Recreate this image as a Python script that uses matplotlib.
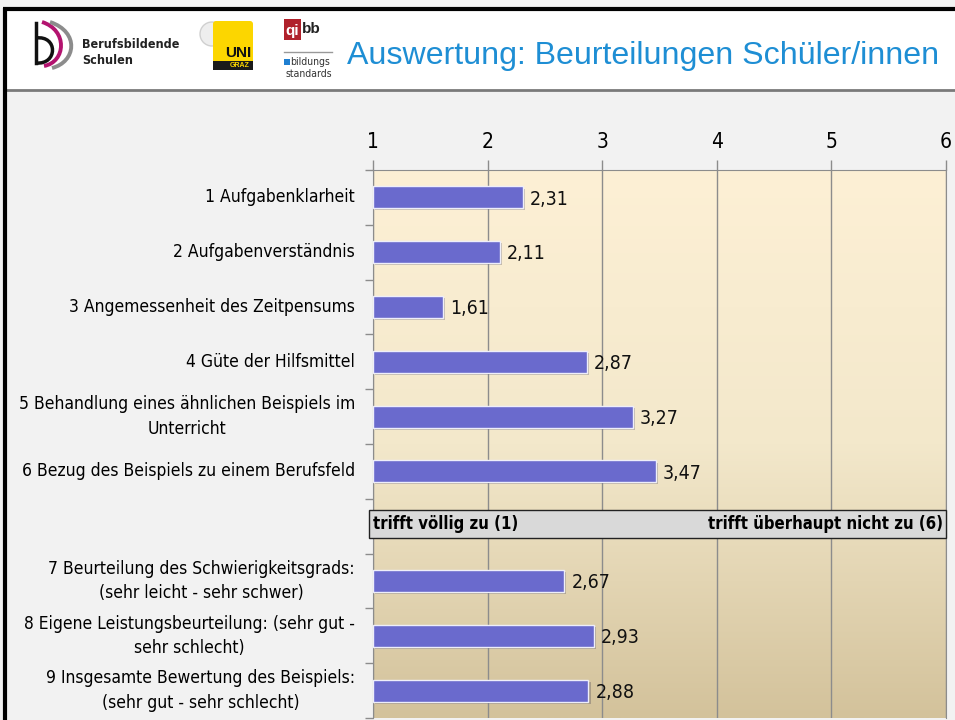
import numpy as np
import matplotlib
matplotlib.use("Agg")
import matplotlib.pyplot as plt
from matplotlib.patches import Rectangle, FancyBboxPatch, Circle, PathPatch
from matplotlib.path import Path
import matplotlib.patheffects as pe
from matplotlib.colors import LinearSegmentedColormap

#----------------------------------------------------------------
#   DATA
#----------------------------------------------------------------
labels = [
    "1 Aufgabenklarheit",
    "2 Aufgabenverständnis",
    "3 Angemessenheit des Zeitpensums",
    "4 Güte der Hilfsmittel",
    "5 Behandlung eines ähnlichen Beispiels im\nUnterricht",
    "6 Bezug des Beispiels zu einem Berufsfeld",
    "",
    "7 Beurteilung des Schwierigkeitsgrads:\n(sehr leicht - sehr schwer)",
    "8 Eigene Leistungsbeurteilung: (sehr gut -\nsehr schlecht)",
    "9 Insgesamte Bewertung des Beispiels:\n(sehr gut - sehr schlecht)",
]
values = [2.31, 2.11, 1.61, 2.87, 3.27, 3.47, np.nan, 2.67, 2.93, 2.88]
x_ticks = [1, 2, 3, 4, 5, 6]
scale_left = "trifft völlig zu (1)"
scale_right = "trifft überhaupt nicht zu (6)"
title = "Auswertung: Beurteilungen Schüler/innen"

# narrow look: DejaVu Sans Condensed (Arial Narrow is not available)
NARROW = dict(family="DejaVu Sans", fontstretch="condensed")
SANS = ["Liberation Sans", "DejaVu Sans"]

#----------------------------------------------------------------
#   FIGURE + SLIDE BACKGROUND (pixel coordinates)
#----------------------------------------------------------------
W, H = 955, 720
fig = plt.figure(figsize=(W / 100, H / 100), dpi=100)
fig.patch.set_facecolor("#f2f2f2")

bg = fig.add_axes([0, 0, 1, 1], zorder=0)
bg.set_xlim(0, W)
bg.set_ylim(H, 0)
bg.axis("off")

# header area
bg.add_patch(Rectangle((5, 9), W, 81, facecolor="white", edgecolor="none"))
bg.plot([6, W], [90, 90], color="#7a7a7a", lw=2)
# black frame
bg.plot([3, W], [9, 9], color="black", lw=3, solid_capstyle="butt")
bg.plot([4.5, 4.5], [8, H], color="black", lw=3, solid_capstyle="butt")

# logo 1: Berufsbildende Schulen
bg.plot([36, 36], [23, 63], color="#111111", lw=2.5)
bg.add_patch(PathPatch(Path([(36, 38), (58, 35), (58, 65), (36, 63)],
                            [Path.MOVETO, Path.CURVE4, Path.CURVE4, Path.CURVE4]),
                       facecolor="none", edgecolor="#111111", lw=2.5))
bg.add_patch(PathPatch(Path([(42, 22), (68, 30), (66, 62), (44, 66)],
                            [Path.MOVETO, Path.CURVE4, Path.CURVE4, Path.CURVE4]),
                       facecolor="none", edgecolor="#b3136f", lw=2.8))
bg.add_patch(PathPatch(Path([(50, 22), (80, 32), (76, 62), (52, 68)],
                            [Path.MOVETO, Path.CURVE4, Path.CURVE4, Path.CURVE4]),
                       facecolor="none", edgecolor="#8c8c8c", lw=2.8))
bg.text(82, 44, "Berufsbildende", fontsize=9, fontweight="bold", **NARROW,
        color="#222222", va="center")
bg.text(82, 61, "Schulen", fontsize=9, fontweight="bold", **NARROW,
        color="#222222", va="center")

# logo 2: Uni Graz
bg.add_patch(Circle((212, 34), 12, facecolor="#eeeeee", edgecolor="#d0d0d0", lw=1))
bg.add_patch(FancyBboxPatch((213, 21), 40, 49, boxstyle="round,pad=0,rounding_size=3",
                            facecolor="#fcd600", edgecolor="none"))
bg.add_patch(Rectangle((213, 61), 40, 9, facecolor="#1a1a1a", edgecolor="none"))
bg.text(238, 53, "UNI", fontsize=11, fontweight="bold", family=SANS, color="#111111",
        ha="center", va="center")
bg.text(240, 65.5, "GRAZ", fontsize=5, fontweight="bold", family=SANS, color="#fcd600",
        ha="center", va="center")

# logo 3: qibb bildungsstandards
bg.add_patch(Rectangle((284, 19), 17, 21, facecolor="#b0212b", edgecolor="none"))
bg.text(292.5, 31, "qi", fontsize=11, fontweight="bold", family=SANS, color="white",
        ha="center", va="center")
bg.text(302, 29, "bb", fontsize=11, fontweight="bold", family=SANS, color="#222222",
        ha="left", va="center")
bg.plot([284, 332], [52, 52], color="#999999", lw=1)
bg.add_patch(Rectangle((284, 59), 6, 6, facecolor="#1f7fd1", edgecolor="none"))
bg.text(290, 62, "bildungs", fontsize=7.5, **NARROW, color="#333333", va="center")
bg.text(286, 74, "standards", fontsize=7.5, **NARROW, color="#333333", va="center")

# title
bg.text(347, 56, title, fontsize=23.1, family=SANS, color="#1e8ed4", va="center", ha="left")

#----------------------------------------------------------------
#   CHART
#----------------------------------------------------------------
ax = fig.add_axes([373 / W, 1 - 718 / H, 573 / W, 548 / H], zorder=1)
n = len(labels)
y = np.arange(n)
ax.set_xlim(1, 6)
ax.set_ylim(n - 0.5, -0.5)

# gradient plot area
grad = LinearSegmentedColormap.from_list("bg", ["#fdf0d5", "#f3e8cb", "#d3c29b"])
ax.imshow(np.linspace(0, 1, 256).reshape(-1, 1), cmap=grad, aspect="auto",
          extent=[1, 6, n - 0.5, -0.5], zorder=0)

ax.grid(axis="x", color="#8c8c8c", lw=1, zorder=1)
ax.set_axisbelow(False)
for side in ["top", "left", "right"]:
    ax.spines[side].set_color("#8c8c8c")
ax.spines["bottom"].set_visible(False)

vals = np.array(values, dtype=float)
mask = ~np.isnan(vals)
bars = ax.barh(y[mask], vals[mask] - 1, left=1, height=0.4, color="#6a6acd",
               edgecolor="#eeeefa", lw=1, zorder=3)
for b in bars:
    b.set_path_effects([pe.SimplePatchShadow(offset=(1.5, -1.5), alpha=0.25), pe.Normal()])

for yi, v in zip(y[mask], vals[mask]):
    ax.text(v + 0.06, yi + 0.03, f"{v:.2f}".replace(".", ","), fontsize=14,
            **NARROW, va="center", ha="left", color="#111111", zorder=4)

# x axis on top
ax.xaxis.tick_top()
ax.set_xticks(x_ticks)
ax.set_xticklabels([str(t) for t in x_ticks], fontsize=15, **NARROW)
ax.tick_params(axis="x", which="major", direction="out", length=7, width=1,
               color="#8c8c8c", pad=6)

# y axis: labels at row centres, tick marks at row boundaries
ax.set_yticks(y)
ax.set_yticklabels(labels, fontsize=12.5, **NARROW, multialignment="center",
                   linespacing=1.45)
for lab in ax.get_yticklabels():
    lab.set_verticalalignment("center")
ax.tick_params(axis="y", which="major", length=0, pad=13)
ax.set_yticks(np.arange(-0.5, n, 1), minor=True)
ax.tick_params(axis="y", which="minor", direction="out", length=6, width=1,
               color="#8c8c8c")

# scale band in the empty row
band_row = labels.index("")
ax.add_patch(Rectangle((0.965, band_row - 0.3), 5.035, 0.51, facecolor="#d9d9d9",
                       edgecolor="#222222", lw=1, zorder=5, clip_on=False))
ax.text(1.0, band_row - 0.045, scale_left, fontsize=12, fontweight="bold",
        **NARROW, va="center", ha="left", zorder=6)
ax.text(5.97, band_row - 0.045, scale_right, fontsize=12, fontweight="bold",
        **NARROW, va="center", ha="right", zorder=6)

fig.savefig("out.png", dpi=100)
